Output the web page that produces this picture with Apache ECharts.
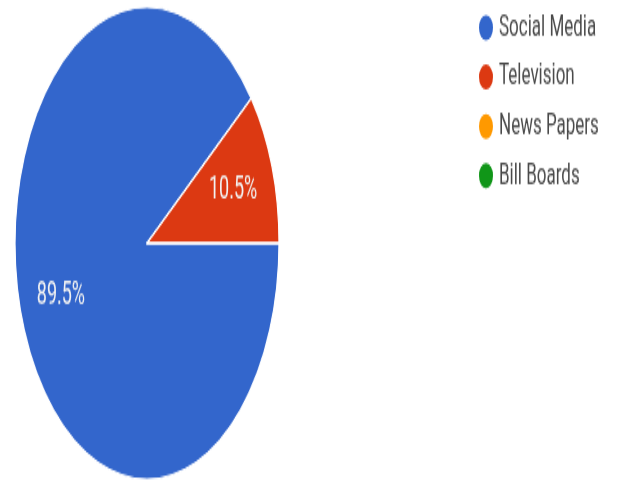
<!DOCTYPE html>
<html>
<head>
<meta charset="utf-8">
<script src="https://cdn.jsdelivr.net/npm/echarts@6/dist/echarts.min.js"></script>
<style>
  html, body { margin: 0; padding: 0; background: #fff; overflow: hidden; }
  #wrap { width: 618px; height: 481px; overflow: hidden; }
  /* the chart is laid out flat and stretched vertically to the page height */
  #chart { width: 618px; height: 269px; transform: scaleY(1.788); transform-origin: 0 0; }
</style>
</head>
<body>
<div id="wrap"><div id="chart"></div></div>
<script>
const categories = ['Social Media', 'Television', 'News Papers', 'Bill Boards'];
const shares = [89.5, 10.5, 0, 0];
const colors = ['#3366cc', '#dc3912', '#ff9900', '#109618'];

const pieData = categories.map((name, i) => ({ name, value: shares[i] }));

const chart = echarts.init(document.getElementById('chart'));
chart.setOption({
  animation: false,
  color: colors,
  legend: {
    orient: 'vertical',
    left: 472,
    top: 1.5,
    icon: 'circle',
    itemWidth: 16,
    itemHeight: 16,
    itemGap: 9.6,
    selectedMode: false,
    data: categories,
    textStyle: { fontFamily: 'Roboto', fontSize: 17, color: '#4a4a4a', lineHeight: 16 }
  },
  series: [
    {
      type: 'pie',
      center: [147, 136],
      radius: [0, 132],
      startAngle: 0,
      clockwise: true,
      silent: true,
      data: pieData,
      itemStyle: { borderColor: '#fff', borderWidth: 1.2 },
      label: { show: false },
      labelLine: { show: false }
    },
    {
      // transparent ring used only to place the percentage labels
      type: 'pie',
      center: [147, 136],
      radius: [44, 132],
      startAngle: 0,
      clockwise: true,
      silent: true,
      data: pieData,
      itemStyle: { color: 'rgba(0,0,0,0)', borderWidth: 0 },
      label: {
        show: true,
        position: 'inside',
        fontFamily: 'Roboto',
        fontSize: 18,
        color: '#f2f2f2',
        formatter: p => (p.value > 0 ? p.value.toFixed(1) + '%' : '')
      },
      labelLine: { show: false }
    }
  ]
});
</script>
</body>
</html>
